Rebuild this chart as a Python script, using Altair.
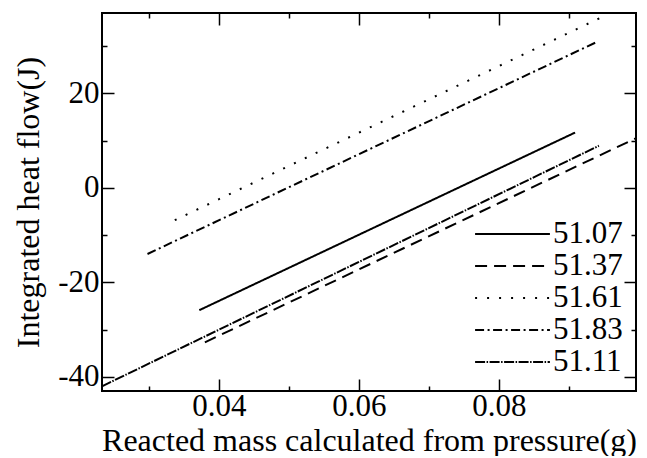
import altair as alt
import pandas as pd

# Series (legend labels) and the two end points of each straight fit line
series = ["51.07", "51.37", "51.61", "51.83", "51.11"]
x_start = [0.0372, 0.0380, 0.0337, 0.0298, 0.0233]
y_start = [-25.9, -32.7, -6.85, -14.0, -42.0]
x_end = [0.0909, 0.0996, 0.0944, 0.0939, 0.0943]
y_end = [11.7, 10.5, 35.9, 30.8, 8.9]

x_major = [0.04, 0.06, 0.08]
x_all_ticks = [0.03, 0.04, 0.05, 0.06, 0.07, 0.08, 0.09]
y_major = [-40, -20, 0, 20]
y_all_ticks = [-40, -30, -20, -10, 0, 10, 20, 30]

rows = []
for s, x0, y0, x1, y1 in zip(series, x_start, y_start, x_end, y_end):
    rows.append({"run": s, "mass": x0, "heat": y0})
    rows.append({"run": s, "mass": x1, "heat": y1})
df = pd.DataFrame(rows)

W, H = 534, 378
FONT = "Liberation Serif"
LFS = 31     # tick / legend labels
TFS = 32     # axis titles

xs = alt.Scale(domain=[0.0233, 0.0996], nice=False, zero=False)
ys = alt.Scale(domain=[-43, 37], nice=False, zero=False)
dash_scale = alt.Scale(
    domain=series,
    range=[[1, 0], [12, 7], [2, 10], [9, 3.5, 2, 3.5], [10, 1.5, 1.5, 1.5]],
)

base = alt.Chart(df)

lines = base.mark_line(color="black", strokeWidth=2, clip=True).encode(
    x=alt.X(
        "mass:Q", scale=xs,
        axis=alt.Axis(
            values=x_major, title="Reacted mass calculated from pressure(g)",
            ticks=False, domain=False, grid=False,
            labelFont=FONT, labelFontSize=LFS, labelColor="black",
            titleFont=FONT, titleFontSize=TFS, titleFontWeight="normal",
            titleColor="black", labelPadding=0,
            titleY=59, titleBaseline="alphabetic",
            labelExpr="'' + datum.value",
        ),
    ),
    y=alt.Y(
        "heat:Q", scale=ys,
        axis=alt.Axis(
            values=y_major, title="Integrated heat flow(J)",
            ticks=False, domain=False, grid=False,
            labelFont=FONT, labelFontSize=LFS, labelColor="black",
            titleFont=FONT, titleFontSize=TFS, titleFontWeight="normal",
            titleColor="black", labelPadding=3, titlePadding=12,
            labelExpr="'' + datum.value",
        ),
    ),
    strokeDash=alt.StrokeDash(
        "run:N", scale=dash_scale,
        legend=alt.Legend(
            title=None, orient="none", legendX=372, legendY=205,
            symbolType="stroke", symbolSize=5600, symbolStrokeWidth=2,
            symbolStrokeColor="black", labelFont=FONT, labelFontSize=LFS,
            labelColor="black", clipHeight=32, rowPadding=0, labelOffset=2,
        ),
    ),
    detail="run:N",
)

tick_common = dict(labels=False, domain=False, title=None, grid=False,
                   tickColor="black", tickWidth=1.5)
xsize = {"condition": {"test": "round(datum.value*100) % 2 == 0", "value": 12}, "value": 5}
ysize = {"condition": {"test": "datum.value % 20 == 0", "value": 12}, "value": 5}

ghost = base.mark_line(strokeOpacity=0)

inner_a = ghost.encode(
    x=alt.X("mass:Q", scale=xs, axis=alt.Axis(orient="top", offset=-H, values=x_all_ticks, tickSize=xsize, **tick_common)),
    y=alt.Y("heat:Q", scale=ys, axis=alt.Axis(orient="right", offset=-W, values=y_all_ticks, tickSize=ysize, **tick_common)),
    detail="run:N",
)
inner_b = ghost.encode(
    x=alt.X("mass:Q", scale=xs, axis=alt.Axis(orient="bottom", offset=-H, values=x_all_ticks, tickSize=xsize, **tick_common)),
    y=alt.Y("heat:Q", scale=ys, axis=alt.Axis(orient="left", offset=-W, values=y_all_ticks, tickSize=ysize, **tick_common)),
    detail="run:N",
)

chart = (
    alt.layer(lines, inner_a, inner_b)
    .resolve_axis(x="independent", y="independent")
    .properties(width=W, height=H, padding={"left": 4, "top": 4, "right": 0, "bottom": 0})
    .configure_view(stroke="black", strokeWidth=2)
)

chart.save("out.html", embed_options={"renderer": "svg", "actions": False})
